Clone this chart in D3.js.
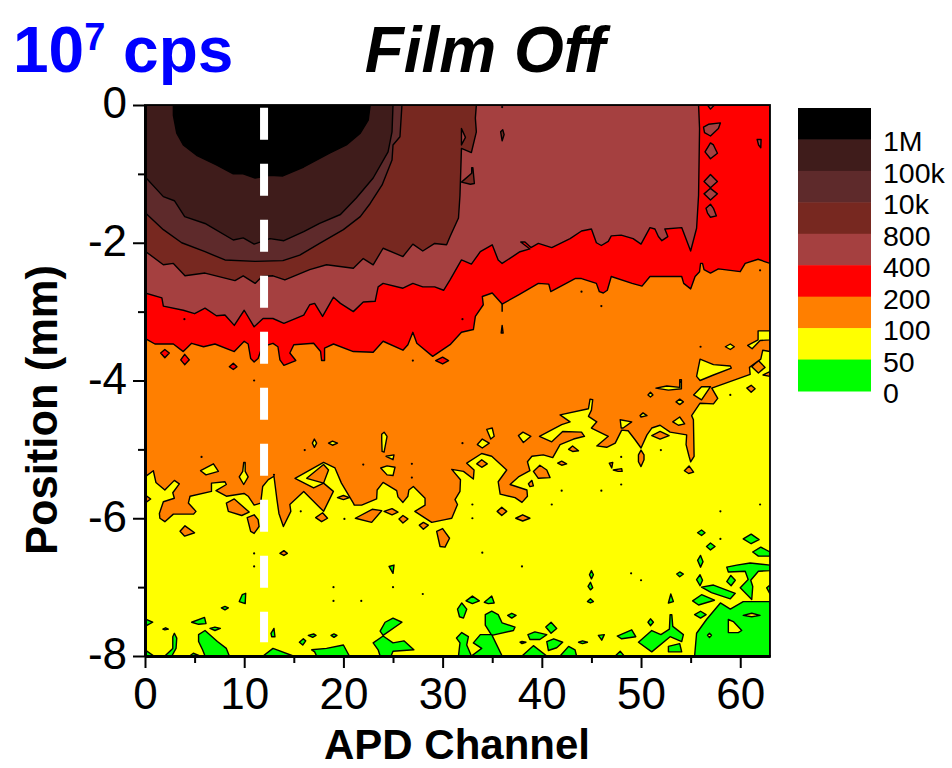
<!DOCTYPE html>
<html lang="en">
<head>
<meta charset="UTF-8">
<script src="https://d3js.org/d3.v7.min.js"></script>
<style>
    body { margin: 0; background: #fff; }
    text { font-family: "Liberation Sans", Arial, sans-serif; }
    .axis path, .axis line { stroke: #000; }
</style>
</head>
<body>
<svg id="chart" width="952" height="768"></svg>
<script>
// band labels + colours, top of the colour key first
const keyLabels = ["1M", "100k", "10k", "800", "400", "200", "100", "50", "0"];
const keyColors = ["#000000", "#3f1c1b", "#5e2a2b", "#772820", "#a54040", "#ff0000", "#ff7f00", "#ffff00", "#00ff00"];

const xMajor = [0, 10, 20, 30, 40, 50, 60];
const xMinor = [5, 15, 25, 35, 45, 55];
const yMajor = [0, -2, -4, -6, -8];
const yMinor = [-1, -3, -5, -7];

// marked channel, white dashed line
const markedChannel = [[12, -0.04], [12, -7.8]];

// contour edges, [channel, position mm]
const edge1M = [[2.86,0],[2.86,-0.15],[3.2,-0.41],[3.86,-0.58],[5.2,-0.73],[7.2,-0.87],[8.9,-1],[9.9,-1],[11.1,-1.06],[12.6,-1.02],[13.9,-1.03],[16,-0.9],[18.6,-0.7],[20.3,-0.58],[21.7,-0.41],[22.5,-0.22],[22.7,0]];
const edge100k = [[0,-1.04],[1.85,-1.33],[2.96,-1.39],[4,-1.62],[6.05,-1.72],[8.9,-1.96],[9.9,-1.93],[11,-2.02],[12.6,-1.94],[14,-1.97],[16,-1.84],[17.6,-1.72],[19.7,-1.59],[21.3,-1.35],[23,-1.06],[24.5,-0.68],[24.9,-0.39],[25,0]];
const edge10k = [[0,-1.56],[1.85,-1.81],[3.7,-2],[6.05,-2.13],[8.06,-2.25],[11.1,-2.27],[13.9,-2.26],[15.6,-2.18],[17.6,-2.01],[20,-1.81],[21.7,-1.62],[22.7,-1.43],[23.9,-1.16],[24.9,-0.8],[25,-0.58],[25.7,-0.46],[25.9,0]];
const edge800 = [[0,-2.12],[1.85,-2.32],[2.86,-2.3],[4.03,-2.48],[6.05,-2.44],[9.07,-2.55],[9.9,-2.48],[11.1,-2.59],[11.8,-2.49],[12.9,-2.48],[14.1,-2.54],[16.6,-2.39],[18.3,-2.32],[21,-2.37],[22,-2.23],[23,-2.32],[24,-2.08],[26,-2.2],[27,-2.02],[28,-2.12],[29.2,-2.01],[30.4,-2.03],[30.75,-1.91],[31.6,-1.64],[31.75,-1.31],[31.9,-0.63],[32.9,-0.69],[33.4,-0.39],[33.3,-0.19],[33.4,0]];
const edge400 = [[0,-2.73],[1.7,-2.8],[1.85,-2.92],[3.86,-2.98],[5,-3.03],[6.05,-2.95],[7.2,-3.06],[8.06,-3.05],[9,-3.2],[10,-2.98],[11,-3.22],[11.9,-3.1],[12.9,-3.1],[14,-3.17],[16,-3.05],[16.6,-2.9],[17.1,-2.88],[17.9,-3.07],[19,-2.79],[19.7,-2.88],[21,-3],[22,-2.86],[23.2,-2.85],[23.5,-2.64],[24,-2.59],[26,-2.66],[27,-2.59],[28,-2.64],[29.2,-2.64],[30.1,-2.69],[30.75,-2.54],[31.9,-2.25],[32.9,-2.31],[33.8,-2.13],[35,-2.03],[35.6,-2.25],[36,-2.3],[37.8,-2.13],[38.8,-2.09],[37.87,-1.99],[38.3,-1.99],[38.9,-2.07],[39.65,-2.01],[41,-2.07],[42.85,-1.94],[44,-1.83],[45,-1.8],[45.5,-2],[46,-2.04],[46.7,-1.98],[47,-1.9],[48,-1.89],[49.2,-1.94],[50,-2.02],[50.9,-1.78],[51.4,-1.8],[51.75,-1.91],[52.1,-1.97],[52.7,-1.91],[52.4,-1.8],[54.1,-1.78],[55,-2.12],[55.6,-1.79],[55.8,-1.31],[55.9,-0.34],[55.8,0]];
const edge200 = [[0,-3.39],[1,-3.47],[2.86,-3.47],[3.86,-3.58],[4.7,-3.46],[5.9,-3.51],[7.05,-3.47],[9,-3.58],[10,-3.43],[10.4,-3.47],[10.65,-3.68],[11,-3.73],[11.4,-3.68],[11.8,-3.51],[12.9,-3.46],[13.4,-3.51],[13.6,-3.7],[14,-3.78],[15.2,-3.71],[14.6,-3.6],[15,-3.48],[17,-3.46],[17.7,-3.58],[17.8,-3.71],[18.1,-3.71],[18.1,-3.53],[19,-3.47],[21,-3.58],[23,-3.59],[24,-3.43],[26,-3.56],[26.5,-3.48],[27,-3.3],[27.4,-3.46],[29,-3.65],[30.75,-3.48],[31.9,-3.3],[33.1,-3.26],[33.3,-3.07],[34.1,-2.9],[34,-2.78],[35,-2.73],[36,-2.89],[37.75,-2.75],[39.65,-2.59],[40.7,-2.6],[40.9,-2.71],[43.35,-2.52],[44,-2.52],[45.5,-2.59],[45.8,-2.71],[46.2,-2.73],[46.6,-2.69],[47,-2.49],[49.1,-2.59],[50.1,-2.63],[50.9,-2.49],[54.1,-2.49],[54.3,-2.59],[55,-2.67],[55.45,-2.49],[55.9,-2.42],[56,-2.3],[56.2,-2.3],[56.35,-2.39],[57,-2.44],[57.8,-2.38],[60,-2.42],[60.5,-2.3],[61.8,-2.24],[63,-2.3]];
const edge100 = [[0,-5.4],[0.84,-5.31],[1.1,-5.48],[2,-5.59],[2.96,-5.45],[3.46,-5.5],[2.8,-5.63],[2.96,-5.71],[1.85,-5.76],[1.45,-5.93],[1.5,-6],[2,-6.05],[2.86,-5.94],[4.9,-5.94],[5.14,-5.9],[4.37,-5.78],[4.54,-5.68],[6.7,-5.61],[6.7,-5.49],[8.06,-5.47],[8.2,-5.51],[7.16,-5.6],[8.2,-5.68],[9.98,-5.64],[10.4,-5.68],[11,-5.81],[11.66,-5.78],[11.86,-5.54],[12.43,-5.44],[13,-5.39],[13.3,-5.73],[13.5,-5.93],[13.95,-6.12],[14.7,-5.9],[14.6,-5.8],[16,-5.61],[18,-5.9],[18.99,-5.61],[18,-5.49],[17,-5.56],[15.12,-5.42],[18,-5.19],[19.15,-5.27],[19.8,-5.49],[21,-5.78],[21.1,-5.81],[21.84,-5.81],[23.35,-5.72],[23.4,-5.59],[24,-5.48],[25.37,-5.6],[25.5,-5.69],[26,-5.77],[26.5,-5.68],[26.6,-5.59],[27.05,-5.54],[28.23,-5.71],[28.23,-5.81],[27.2,-5.9],[28.9,-6.06],[30.25,-6.02],[30.92,-6],[31.5,-5.8],[31.25,-5.73],[31.75,-5.61],[31.8,-5.44],[30.92,-5.29],[32.1,-5.32],[33.1,-5.43],[33.17,-5.3],[32.43,-5.2],[33.94,-5.06],[34.95,-5.1],[36.46,-5.3],[35.6,-5.47],[35.8,-5.65],[37.3,-5.7],[38,-5.77],[38.55,-5.68],[38.5,-5.59],[36.8,-5.51],[37.64,-5.4],[38.8,-5.31],[38.55,-5.18],[39,-5.1],[40.15,-5.08],[41.1,-5.12],[41.84,-4.93],[43.2,-4.85],[44.3,-4.81],[44,-4.75],[42.1,-4.74],[41,-4.89],[39.76,-4.81],[42,-4.64],[42.85,-4.6],[41.84,-4.5],[44.7,-4.41],[44.86,-4.27],[45.13,-4.28],[45,-4.43],[44.7,-4.52],[45.54,-4.6],[45,-4.69],[46.7,-4.81],[45.54,-4.95],[46.54,-4.97],[47.4,-4.91],[48.05,-4.72],[48.7,-4.73],[49.4,-4.86],[50,-4.98],[50.6,-4.79],[51.08,-4.69],[51.92,-4.65],[52.93,-4.75],[54.6,-4.79],[54.54,-4.93],[54.84,-5.1],[55,-5.18],[55.35,-5.1],[55.28,-4.57],[55.1,-4.51],[55.95,-4.33],[57.3,-4.34],[57.73,-4.26],[57.13,-4.11],[61,-3.91],[60.93,-3.81],[62.07,-3.69],[62.27,-3.56],[63,-3.58]];

// closed patches sitting on the bands above
const yellowPatches = [
  [[5.6,-5.31],[6.9,-5.21],[7.4,-5.32],[6.15,-5.37]],
  [[9.5,-5.4],[9.85,-5.32],[9.95,-5.19],[10.1,-5.19],[10.1,-5.32],[10.4,-5.4],[9.95,-5.51]],
  [[16.87,-4.91],[17.07,-4.85],[17.3,-4.91],[17.07,-4.97]],
  [[18.5,-4.91],[18.9,-4.88],[19.4,-4.91],[18.9,-4.94]],
  [[23.86,-4.86],[23.86,-4.78],[24.1,-4.75],[24.4,-4.81],[24.1,-5.04],[23.9,-5.03]],
  [[24.3,-5.1],[25.1,-5.08],[25,-5.15]],
  [[23.76,-5.27],[24.4,-5.24],[25.2,-5.26],[25,-5.38],[24.4,-5.37]],
  [[33.5,-4.93],[34,-4.85],[34.7,-4.91],[34,-4.98]],
  [[34.45,-4.71],[35,-4.69],[35.2,-4.81],[34.85,-4.85]],
  [[37.64,-4.8],[38.1,-4.75],[38.9,-4.81],[38.14,-4.9]],
  [[47.9,-4.57],[49.06,-4.6],[48.2,-4.69],[48,-4.69]],
  [[49.9,-4.51],[50.2,-4.47],[50.6,-4.51],[50,-4.53]],
  [[50.7,-4.21],[50.95,-4.17],[51.2,-4.21],[50.95,-4.24]],
  [[51.5,-4.11],[52.6,-4.08],[53.9,-4.1],[53.9,-3.99],[54.07,-3.99],[54.07,-4.12],[52.76,-4.14]],
  [[53.53,-4.31],[53.9,-4.27],[54.27,-4.31],[53.9,-4.35]],
  [[53.2,-4.6],[53.9,-4.53],[54.4,-4.63],[53.77,-4.65]],
  [[55.6,-3.94],[55.95,-3.69],[57.3,-3.77],[59,-3.79],[59.1,-3.82],[57.3,-3.92],[55.95,-4]],
  [[55.3,-4.21],[56.1,-4.09],[57,-4.09],[56.1,-4.28]],
  [[58.5,-3.51],[59,-3.47],[59.4,-3.51],[59,-3.55]],
  [[60.75,-3.49],[61.8,-3.41],[61.8,-3.28],[63,-3.28],[63,-3.41],[62,-3.42],[61.2,-3.54]]
];
const orangePatches = [
  [[0,-5.66],[0.57,-5.72],[0,-5.78]],
  [[8.2,-5.78],[9,-5.72],[10.5,-5.91],[9.75,-5.96],[8.4,-5.9]],
  [[10.3,-5.99],[11,-5.95],[11.4,-6.02],[11.5,-6.12],[11,-6.22],[10.65,-6.19]],
  [[3.53,-6.19],[4.03,-6.11],[5,-6.21],[4,-6.26]],
  [[13.6,-6.51],[14,-6.47],[14.35,-6.51],[14,-6.54]],
  [[16.3,-5.42],[18,-5.22],[18.5,-5.3],[18,-5.49]],
  [[17.2,-5.99],[17.9,-5.92],[18.4,-6],[17.8,-6.05]],
  [[19.4,-5.7],[20,-5.67],[20.6,-5.7],[20,-5.73]],
  [[21.2,-6],[22.9,-5.87],[23.86,-5.89],[22.85,-6.06]],
  [[24.1,-5.9],[24.9,-5.86],[25.5,-5.91],[24.9,-5.95]],
  [[25.6,-6.01],[26,-5.96],[26.5,-6.01],[26,-6.07]],
  [[27.65,-6.1],[28.06,-6.06],[28.56,-6.1],[28.06,-6.16]],
  [[29.4,-6.19],[30,-6.15],[30.7,-6.29],[30.24,-6.42],[29.74,-6.41]],
  [[33.44,-5.21],[33.94,-5.15],[34.5,-5.21],[33.94,-5.26]],
  [[39.15,-5.32],[39.8,-5.23],[40.5,-5.3],[40.83,-5.41],[39.65,-5.42]],
  [[41.6,-5.2],[42,-5.17],[42.5,-5.21],[42,-5.23]],
  [[42.7,-5],[43.1,-4.95],[43.7,-5.02],[43.1,-5.03]],
  [[38.65,-5.5],[39,-5.45],[39.15,-5.53],[38.8,-5.54]],
  [[35.5,-5.9],[35.96,-5.84],[36.46,-5.9],[35.96,-5.96]],
  [[37.37,-6],[38.07,-5.95],[38.8,-6],[38.07,-6.04]],
  [[46.8,-5.2],[47.15,-5.19],[47.05,-5.27]],
  [[47.2,-5.3],[48.05,-5.28],[48.1,-5.32],[47.7,-5.32]],
  [[49.74,-5.08],[50,-5.01],[50.3,-5.08],[50.3,-5.15],[50,-5.25],[49.74,-5.18]],
  [[54.37,-5.31],[54.84,-5.24],[55.3,-5.33],[54.8,-5.35]],
  [[51.08,-4.8],[51.92,-4.74],[52.83,-4.8],[51.92,-4.85]],
  [[60.66,-4.11],[61.1,-4.07],[61.5,-4.12],[61.1,-4.17]],
  [[61.16,-3.8],[61.83,-3.71],[62.5,-3.81],[61.83,-3.89]],
  [[62.3,-3.92],[63,-3.87],[63,-3.94]]
];
const greenPatches = [
  [[24.6,-6.7],[25.1,-6.68],[25,-6.8]],
  [[9.5,-7.21],[9.8,-7.11],[10.15,-7.09],[10.1,-7.24]],
  [[7.7,-7.3],[8.06,-7.28],[8.4,-7.3],[8.06,-7.33]],
  [[4.7,-7.51],[6,-7.44],[6.15,-7.53],[5.4,-7.54]],
  [[0,-7.46],[0.77,-7.51],[0,-7.57]],
  [[6.55,-7.6],[7.05,-7.58],[7.6,-7.6],[7.05,-7.63]],
  [[1.8,-7.61],[2.08,-7.59],[2.35,-7.61],[2,-7.62]],
  [[0,-7.91],[0.9,-8],[0,-8]],
  [[2,-8],[2.8,-7.89],[2.8,-7.72],[2.96,-7.67],[3.2,-7.74],[3.13,-7.89],[2.7,-8]],
  [[5.4,-7.69],[6.05,-7.63],[7.3,-7.79],[8.2,-7.89],[8.5,-8],[6.05,-8],[5.8,-7.91],[5.4,-7.79]],
  [[4.5,-8],[4.87,-7.96],[5.54,-8]],
  [[11.9,-8],[12.9,-7.89],[14.95,-8]],
  [[12.7,-7.67],[13,-7.6],[13.1,-7.72],[12.77,-7.72]],
  [[16.46,-7.7],[17,-7.68],[17.24,-7.7],[16.9,-7.73]],
  [[18.75,-7.7],[19.05,-7.68],[19.35,-7.7],[19.05,-7.73]],
  [[15.56,-7.8],[15.96,-7.75],[16.2,-7.78],[15.9,-7.84]],
  [[16.8,-7.91],[18.3,-7.89],[20,-7.84],[20.6,-8],[17.3,-8],[17.1,-7.94]],
  [[23.7,-7.64],[24.2,-7.51],[25,-7.45],[25.9,-7.51],[24,-7.7]],
  [[23,-7.81],[24,-7.71],[25,-7.81],[26.1,-7.78],[27.1,-7.91],[25,-7.93],[24.8,-8],[23.7,-8],[23.5,-7.91]],
  [[32.36,-7.2],[33,-7.13],[33.7,-7.2],[33,-7.24]],
  [[34.2,-7.22],[34.95,-7.13],[35.2,-7.23],[34.6,-7.24]],
  [[31.5,-7.32],[31.93,-7.23],[32.43,-7.32],[32.1,-7.45],[31.7,-7.43]],
  [[36.56,-7.41],[36.97,-7.38],[37.4,-7.41],[36.97,-7.45]],
  [[34.3,-7.4],[34.95,-7.35],[35.6,-7.4],[36,-7.52],[37.3,-7.58],[37.14,-7.63],[34.95,-7.7],[34.3,-7.55]],
  [[33.1,-7.81],[33.8,-7.69],[34.95,-7.69],[36,-8],[32.9,-8],[33.94,-7.89]],
  [[31.4,-7.74],[31.93,-7.66],[32.6,-7.72],[32.43,-7.84],[32.9,-8],[31.6,-8],[31.75,-7.81]],
  [[38,-8],[39.15,-7.85],[40.5,-8]],
  [[38.6,-7.69],[39.3,-7.65],[40.5,-7.69],[39.8,-7.76],[38.8,-7.76]],
  [[40.4,-7.58],[40.93,-7.51],[41.5,-7.6],[40.93,-7.67]],
  [[40.5,-7.79],[41.2,-7.75],[42.1,-7.8],[41.5,-7.88],[40.66,-7.92]],
  [[41.84,-8],[42.7,-7.86],[43.35,-7.91],[43.5,-8]],
  [[37.8,-7.8],[38,-7.79],[38.4,-7.8],[38,-7.82]],
  [[43.7,-7.8],[44.1,-7.78],[44.6,-7.8],[44.1,-7.82]],
  [[44.6,-7.21],[44.9,-7.17],[45.2,-7.21],[44.9,-7.23]],
  [[44.66,-6.99],[44.9,-6.93],[45.13,-7.01],[44.9,-7.04]],
  [[44.8,-6.82],[45,-6.76],[45.2,-6.82],[45,-6.88]],
  [[45.7,-7.7],[46.3,-7.69],[46.04,-7.77]],
  [[47.6,-7.71],[49.06,-7.62],[49.47,-7.72],[48.05,-7.75]],
  [[47.4,-8],[47.9,-7.93],[48.3,-8]],
  [[49.74,-7.8],[51.08,-7.63],[52,-7.69],[52.86,-7.61],[52.93,-7.4],[53.1,-7.4],[53.2,-7.57],[54.27,-7.69],[54.1,-7.79],[52.93,-7.72],[51.08,-7.94]],
  [[50.7,-7.51],[50.95,-7.46],[51.25,-7.51],[50.95,-7.56]],
  [[52.76,-7.86],[53.9,-7.82],[54.1,-7.94],[52.76,-7.94]],
  [[52.76,-7.23],[53,-7.1],[53.26,-7.21]],
  [[55.2,-7.2],[56.1,-7.11],[57.4,-7.19],[55.8,-7.26]],
  [[55.4,-7.4],[56,-7.35],[56.56,-7.4],[56,-7.45]],
  [[55.6,-6.89],[55.95,-6.82],[56.2,-6.9],[55.95,-6.98]],
  [[55.7,-6.61],[56,-6.54],[56.25,-6.63],[56,-6.71]],
  [[55.7,-6.21],[56.1,-6.17],[56.45,-6.21],[56.1,-6.25]],
  [[56.6,-6.41],[57,-6.36],[57.46,-6.41],[57,-6.46]],
  [[53.6,-6.81],[53.9,-6.78],[54.27,-6.81],[53.9,-6.85]],
  [[60.3,-6.3],[61.1,-6.23],[61.9,-6.31],[61.1,-6.37]],
  [[61.26,-6.49],[62.07,-6.42],[63,-6.49],[63,-6.55],[61.83,-6.55]],
  [[58.64,-6.71],[59.65,-6.68],[61,-6.65],[63,-6.68],[63,-6.76],[61.83,-6.77],[61.06,-6.9],[61.26,-6.99],[61.16,-7.18],[60,-7.01],[60.8,-6.89],[60.5,-6.77],[58.8,-6.78]],
  [[58.64,-6.92],[59.05,-6.83],[59.5,-6.9],[59.08,-6.98]],
  [[56.1,-7],[57.3,-6.97],[59.5,-7.09],[59,-7.17],[57.1,-7.08]],
  [[62.67,-7.01],[63,-6.97],[63,-7.1]],
  [[55.4,-8],[55.6,-7.67],[56.6,-7.47],[58,-7.23],[59,-7.32],[60.3,-7.21],[63,-7.21],[63,-8]]
];
const greenHoles = [
  [[58.8,-7.47],[59.3,-7.5],[60.15,-7.63],[59.8,-7.66],[58.8,-7.66]],
  [[60.3,-7.41],[61.16,-7.38],[62,-7.41],[61.16,-7.43]],
  [[56.7,-7.7],[56.9,-7.67],[57.1,-7.7],[56.9,-7.73]]
];
const redPatches = [
  [[1.58,-3.6],[2,-3.55],[2.45,-3.6],[2,-3.67]],
  [[3.6,-3.7],[4,-3.62],[4.47,-3.7],[4,-3.77]],
  [[8.5,-3.8],[8.9,-3.75],[9.27,-3.8],[8.9,-3.84]],
  [[29.3,-3.71],[30,-3.66],[30.6,-3.71],[30,-3.76]],
  [[35.9,-3.31],[36,-3.2],[36.1,-3.31]]
];
const band400Patches = [
  [[2.35,-2.81],[3,-2.78],[3.09,-2.82],[2.7,-2.83]],
  [[56.3,-0.32],[56.8,-0.28],[58,-0.26],[57.8,-0.34],[57,-0.45],[56.4,-0.4]],
  [[56.45,-0.68],[57,-0.55],[57.3,-0.58],[57.7,-0.7],[57,-0.78]],
  [[56.35,-1.11],[57,-1.01],[57.7,-1.11],[57,-1.2]],
  [[56.35,-1.29],[57,-1.21],[57.7,-1.29],[57,-1.38]],
  [[56.55,-1.5],[57,-1.44],[57.3,-1.5],[57.6,-1.61],[57,-1.63],[56.7,-1.57]],
  [[61.7,-0.5],[62.1,-0.5],[62.07,-0.62],[61.85,-0.58]],
  [[56.7,0],[57,-0.06],[57.4,0]]
];
const band800Patches = [
  [[31.9,-1.12],[32.93,-0.99],[32.93,-0.91],[33.05,-0.91],[33.2,-1.14],[32.8,-1.15]],
  [[35.85,-0.39],[36.06,-0.36],[36.2,-0.43],[36,-0.52]]
];
const band400InBrown = [
  [[31.9,-0.34],[32.3,-0.47],[31.9,-0.58]]
];

// single-cell specks too small to show a fill
const specks = [[3.97,-3.11],[11,-4],[27,-3.71],[32,-3.11],[44,-2.71],[46,-2.92],[56,-3.51],[62,-2.4],[54,-4.02],[36,-0.03],[5.7,-5.11],[16.1,-5.01],[15.7,-5.9],[20.1,-6.01],[13,-5.37],[22,-5.22],[26.9,-5.21],[26.9,-5.41],[0,-5.22],[11,-6.51],[11,-6.7],[19,-7],[19,-7.2],[25,-7],[28,-7.1],[21.8,-7.2],[32,-4.91],[33,-5.8],[33,-6],[41,-5.8],[34,-6.5],[38,-6.7],[42,-5.6],[46,-5.6],[48,-5.11],[48,-5.51],[52,-5.01],[59,-4.21],[49,-6.8],[50,-6.9],[58,-6.3],[58,-5.9],[62,-5.8]];
const spikes = [[[36,-2.88],[36,-3]]];

const margin = { top: 105, right: 182, bottom: 112, left: 145 };
const width = 952, height = 768;

const x = d3.scaleLinear().domain([0, 63]).range([margin.left, width - margin.right]);
const y = d3.scaleLinear().domain([0, -8]).range([margin.top, height - margin.bottom]);

const svg = d3.select("#chart");

svg.append("clipPath").attr("id", "plot-clip").append("rect")
    .attr("x", x(0)).attr("y", y(0))
    .attr("width", x(63) - x(0)).attr("height", y(-8) - y(0));

const plot = svg.append("g").attr("clip-path", "url(#plot-clip)");

plot.append("rect")
    .attr("x", x(0)).attr("y", y(0))
    .attr("width", x(63) - x(0)).attr("height", y(-8) - y(0))
    .attr("fill", keyColors[7]);

const outline = d3.line().x(d => x(d[0])).y(d => y(d[1])).curve(d3.curveLinearClosed);

// edge runs from one side to the other, close it along the top of the plot
const closeToTop = e => e.concat([[e[e.length - 1][0], 0], [e[0][0], 0]]);

const layers = [
    { polys: greenPatches, color: keyColors[8] },
    { polys: greenHoles, color: keyColors[7] },
    { polys: orangePatches, color: keyColors[6] },
    { polys: [closeToTop(edge100)], color: keyColors[6] },
    { polys: yellowPatches, color: keyColors[7] },
    { polys: redPatches, color: keyColors[5] },
    { polys: [closeToTop(edge200)], color: keyColors[5] },
    { polys: band400Patches, color: keyColors[4] },
    { polys: [closeToTop(edge400)], color: keyColors[4] },
    { polys: band800Patches, color: keyColors[3] },
    { polys: [closeToTop(edge800)], color: keyColors[3] },
    { polys: band400InBrown, color: keyColors[4] },
    { polys: [closeToTop(edge10k)], color: keyColors[2] },
    { polys: [closeToTop(edge100k)], color: keyColors[1] },
    { polys: [edge1M], color: keyColors[0] }
];

layers.forEach(layer => {
    plot.append("g").selectAll("path")
        .data(layer.polys)
        .enter().append("path")
        .attr("d", outline)
        .attr("fill", layer.color)
        .attr("stroke", "#000")
        .attr("stroke-width", 1.4)
        .attr("stroke-linejoin", "round");
});

plot.append("g").selectAll("circle")
    .data(specks)
    .enter().append("circle")
    .attr("cx", d => x(d[0]))
    .attr("cy", d => y(d[1]))
    .attr("r", 1.1)
    .attr("fill", "#000");

plot.append("g").selectAll("path")
    .data(spikes)
    .enter().append("path")
    .attr("d", d3.line().x(d => x(d[0])).y(d => y(d[1])))
    .attr("stroke", "#000")
    .attr("stroke-width", 1.5);

svg.append("path")
    .datum(markedChannel)
    .attr("d", d3.line().x(d => x(d[0])).y(d => y(d[1])))
    .attr("stroke", "#fff")
    .attr("stroke-width", 8)
    .attr("stroke-dasharray", "32 24")
    .attr("fill", "none");

// frame
svg.append("rect")
    .attr("x", x(0)).attr("y", y(0))
    .attr("width", x(63) - x(0)).attr("height", y(-8) - y(0))
    .attr("fill", "none")
    .attr("stroke", "#000")
    .attr("stroke-width", 1.8);

const drawAxis = (axis, transform) => {
    const g = svg.append("g")
        .attr("class", "axis")
        .attr("transform", transform)
        .call(axis);
    g.selectAll("line").attr("stroke-width", 2);
    g.select("path").attr("stroke-width", 3);
    g.selectAll("text").style("font-size", "44px");
    return g;
};

drawAxis(d3.axisBottom(x).tickValues(xMajor).tickSize(12).tickPadding(10).tickSizeOuter(0),
    `translate(0,${y(-8)})`);
drawAxis(d3.axisBottom(x).tickValues(xMinor).tickSize(7).tickFormat("").tickSizeOuter(0),
    `translate(0,${y(-8)})`);
drawAxis(d3.axisLeft(y).tickValues(yMajor).tickSize(12).tickPadding(6).tickSizeOuter(0).tickFormat(d => d),
    `translate(${x(0)},0)`)
    .selectAll("text").attr("dy", "0.29em");
drawAxis(d3.axisLeft(y).tickValues(yMinor).tickSize(7).tickFormat("").tickSizeOuter(0),
    `translate(${x(0)},0)`);

// titles
svg.append("text")
    .attr("x", 457).attr("y", 759)
    .attr("text-anchor", "middle")
    .style("font-size", "42px").style("font-weight", "bold")
    .text("APD Channel");

svg.append("text")
    .attr("transform", "translate(57,410) rotate(-90)")
    .attr("text-anchor", "middle")
    .style("font-size", "43.5px").style("font-weight", "bold")
    .text("Position (mm)");

svg.append("text")
    .attr("x", 485).attr("y", 72)
    .attr("text-anchor", "middle")
    .style("font-size", "64px").style("font-weight", "bold").style("font-style", "italic")
    .text("Film Off");

const cps = svg.append("text")
    .attr("x", 13).attr("y", 72)
    .attr("fill", "#0000ff")
    .style("font-size", "64px").style("font-weight", "bold");
cps.append("tspan").text("10");
cps.append("tspan").attr("dy", -22).style("font-size", "38px").text("7");
cps.append("tspan").attr("dy", 22).text(" cps");

// colour key
const keyY = d3.scaleBand().domain(d3.range(keyColors.length)).range([108, 391]);

svg.append("g").selectAll("rect")
    .data(keyColors)
    .enter().append("rect")
    .attr("x", 798).attr("width", 73)
    .attr("y", (d, i) => keyY(i))
    .attr("height", keyY.bandwidth() + 0.5)
    .attr("fill", d => d);

svg.append("g").selectAll("text")
    .data(keyLabels)
    .enter().append("text")
    .attr("x", 883)
    .attr("y", (d, i) => keyY(i) + keyY.bandwidth())
    .attr("dy", 12)
    .style("font-size", "28.5px")
    .text(d => d);
</script>
</body>
</html>
